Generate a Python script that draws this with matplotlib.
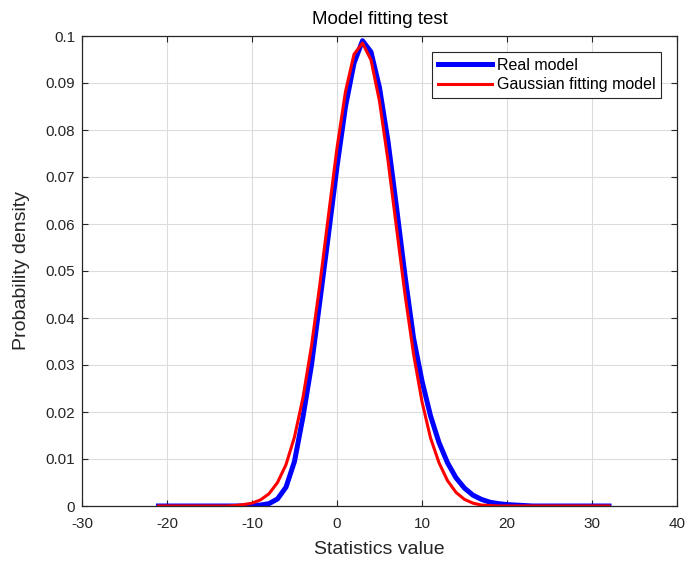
import matplotlib.pyplot as plt

plt.rcParams["font.family"] = ["Liberation Sans", "DejaVu Sans"]
plt.rcParams["axes.unicode_minus"] = False

# statistic value grid (step 1) and density values
x_vals = list(range(-21, 33))

real_model = [
    0, 0, 0, 0, 0, 0, 0, 0, 0, 0,           # -21 .. -12
    0.0000, 0.0001, 0.0002, 0.0005, 0.0015,  # -11 .. -7
    0.0040, 0.0095, 0.0190, 0.0300, 0.0438,  # -6 .. -2
    0.0578, 0.0722, 0.0850, 0.0942, 0.0990,  # -1 .. 3
    0.0966, 0.0890, 0.0776, 0.0636, 0.0490,  # 4 .. 8
    0.0358, 0.0266, 0.0192, 0.0135, 0.0092,  # 9 .. 13
    0.0060, 0.0038, 0.0023, 0.0014, 0.0008,  # 14 .. 18
    0.0005, 0.0003, 0.0002, 0.0001, 0.0000,  # 19 .. 23
    0, 0, 0, 0, 0, 0, 0, 0, 0,              # 24 .. 32
]

gaussian_fit = [
    0, 0, 0, 0, 0, 0, 0, 0, 0,              # -21 .. -13
    0.0001, 0.0003, 0.0006, 0.0013, 0.0026,  # -12 .. -8
    0.0050, 0.0088, 0.0147, 0.0231, 0.0341,  # -7 .. -3
    0.0474, 0.0619, 0.0762, 0.0882, 0.0961,  # -2 .. 2
    0.0985, 0.0949, 0.0861, 0.0735, 0.0592,  # 3 .. 7
    0.0450, 0.0324, 0.0222, 0.0145, 0.0092,  # 8 .. 12
    0.0054, 0.0029, 0.0014, 0.0006, 0.0002,  # 13 .. 17
    0.0001, 0, 0, 0, 0, 0, 0, 0,           # 18 .. 25
    0, 0, 0, 0, 0, 0, 0,                    # 26 .. 32
]

x_ticks = list(range(-30, 41, 10))
y_ticks = [0, 0.01, 0.02, 0.03, 0.04, 0.05, 0.06, 0.07, 0.08, 0.09, 0.1]
y_tick_labels = ["0", "0.01", "0.02", "0.03", "0.04", "0.05", "0.06", "0.07", "0.08", "0.09", "0.1"]

ink = "#262626"

fig = plt.figure(figsize=(6.86, 5.62), dpi=100)
ax = fig.add_axes([82 / 686, 56 / 562, 595 / 686, 470 / 562])

ax.plot(x_vals, real_model, color=(0, 0, 1), lw=3.6, label="Real model", solid_joinstyle="round")
ax.plot(x_vals, gaussian_fit, color=(1, 0, 0), lw=2.2, label="Gaussian fitting model", solid_joinstyle="round")

ax.set_xlim(-30, 40)
ax.set_ylim(0, 0.1)
ax.set_xticks(x_ticks)
ax.set_yticks(y_ticks)
ax.set_yticklabels(y_tick_labels)
ax.grid(True, color="#dcdcdc", lw=0.8)
ax.set_axisbelow(True)

ax.tick_params(direction="in", length=4, width=0.8, colors=ink, labelsize=11,
               top=True, right=True, pad=5)
ax.tick_params(axis="x", pad=8)
for s in ax.spines.values():
    s.set_color(ink)
    s.set_linewidth(0.9)

ax.set_title("Model fitting test", fontsize=13.5, color="black", pad=9)
ax.set_xlabel("Statistics value", fontsize=14, color=ink, labelpad=7)
ax.set_ylabel("Probability density", fontsize=14, color=ink, labelpad=11)

leg = ax.legend(loc="upper right", bbox_to_anchor=(0.973, 0.966), borderaxespad=0,
                fontsize=11.5, fancybox=False, framealpha=1, edgecolor=ink,
                handlelength=3.4, handletextpad=0.3, borderpad=0.35, labelspacing=0.3)
leg.get_frame().set_linewidth(0.8)

fig.savefig("out.png", dpi=100)
